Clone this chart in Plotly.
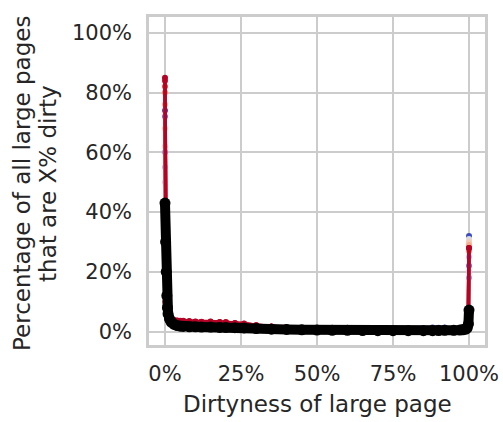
import plotly.graph_objects as go

# Dirtyness buckets (% of the large page that is dirty)
dirtyness = [0, 0.2, 0.4, 0.6, 0.8, 1, 1.5, 2, 3, 4, 5, 6, 8, 10, 12, 15, 18, 20, 23, 26,
             30, 35, 40, 45, 50, 55, 60, 65, 70, 75, 80, 85, 88, 90, 92, 95, 97, 98, 99,
             99.4, 99.8, 100]

# Per-run distributions (percentage of all large pages), coolwarm order
run_colors = ["#3b4cc0", "#5977e3", "#7b9ff9", "#9ebeff", "#c0d4f5", "#dddcdc",
              "#f2cbb7", "#f7ac8e", "#ee8468", "#d65244", "#c0142c", "#b40426"]

run_01 = [74, 8.5, 6.5, 5.6, 5.0, 4.6, 4.0, 3.6, 3.2, 3.0, 2.8, 2.9, 2.7, 2.6, 2.6, 2.7, 2.5, 2.5, 2.3,
          2.1, 1.8, 1.5, 1.2, 1.0, 0.8, 0.7, 0.7, 0.6, 0.6, 0.7, 0.8, 1.0, 1.4, 1.3, 0.9, 0.7, 0.8,
          1.0, 1.5, 2.7, 5.5, 32]
run_02 = [72, 8.8, 6.8, 5.8, 5.2, 4.8, 4.2, 3.7, 3.3, 3.1, 3.0, 2.8, 2.8, 2.9, 2.7, 2.6, 2.6, 2.5, 2.3,
          2.1, 1.8, 1.4, 1.2, 1.0, 0.8, 0.7, 0.6, 0.6, 0.6, 0.6, 0.7, 0.8, 0.9, 1.1, 1.4, 0.8, 0.7,
          0.9, 1.3, 2.4, 5.0, 22]
run_03 = [60, 8.0, 6.2, 5.4, 4.9, 4.5, 3.8, 3.4, 3.1, 2.9, 2.8, 2.7, 2.6, 2.7, 2.5, 2.4, 2.4, 2.4, 2.2,
          2.0, 1.7, 1.4, 1.1, 0.9, 0.8, 0.7, 0.6, 0.6, 0.5, 0.5, 0.6, 0.7, 0.7, 0.8, 0.8, 0.7, 0.7,
          0.9, 1.2, 2.2, 4.5, 18]
run_04 = [55, 8.2, 6.3, 5.5, 5.0, 4.6, 3.9, 3.5, 3.2, 3.0, 2.8, 2.8, 2.7, 2.6, 2.6, 2.5, 2.5, 2.4, 2.3,
          2.0, 1.7, 1.4, 1.1, 0.9, 0.8, 0.7, 0.6, 0.5, 0.5, 0.5, 0.6, 0.6, 0.7, 0.7, 0.7, 0.7, 0.7,
          0.9, 1.3, 2.3, 4.6, 25]
run_05 = [50, 7.8, 6.0, 5.3, 4.8, 4.4, 3.8, 3.4, 3.0, 2.9, 2.7, 2.6, 2.6, 2.5, 2.5, 2.4, 2.4, 2.3, 2.2,
          1.9, 1.6, 1.3, 1.1, 0.9, 0.8, 0.6, 0.6, 0.5, 0.5, 0.5, 0.5, 0.6, 0.6, 0.6, 0.7, 0.6, 0.7,
          0.8, 1.2, 2.2, 4.4, 20]
run_06 = [62, 8.4, 6.4, 5.6, 5.1, 4.7, 4.0, 3.6, 3.2, 3.0, 2.9, 2.8, 2.7, 2.7, 2.6, 2.5, 2.5, 2.5, 2.3,
          2.1, 1.8, 1.5, 1.2, 1.0, 0.8, 0.7, 0.6, 0.6, 0.5, 0.6, 0.6, 0.7, 0.7, 0.7, 0.8, 0.7, 0.7,
          0.9, 1.3, 2.5, 5.3, 31]
run_07 = [68, 8.7, 6.6, 5.7, 5.2, 4.8, 4.1, 3.7, 3.3, 3.1, 3.0, 3.0, 2.8, 2.8, 2.7, 2.7, 2.6, 2.6, 2.4,
          2.2, 1.9, 1.5, 1.2, 1.0, 0.8, 0.7, 0.7, 0.6, 0.6, 0.6, 0.6, 0.7, 0.7, 0.8, 0.8, 0.7, 0.8,
          1.0, 1.4, 2.6, 5.5, 30]
run_08 = [76, 9.2, 7.0, 6.0, 5.4, 5.0, 4.3, 3.9, 3.5, 3.3, 3.2, 3.1, 3.0, 2.9, 2.8, 2.9, 2.7, 2.7, 2.5,
          2.3, 1.9, 1.6, 1.3, 1.0, 0.9, 0.7, 0.7, 0.6, 0.6, 0.6, 0.6, 0.7, 0.7, 0.8, 0.8, 0.7, 0.8,
          1.0, 1.4, 2.7, 5.7, 29]
run_09 = [80, 9.5, 7.2, 6.2, 5.5, 5.1, 4.4, 4.0, 3.6, 3.4, 3.3, 3.2, 3.1, 3.2, 3.0, 3.1, 2.9, 2.8, 2.6,
          2.4, 2.0, 1.6, 1.3, 1.1, 0.9, 0.8, 0.7, 0.7, 0.6, 0.6, 0.6, 0.7, 0.7, 0.8, 0.8, 0.8, 0.8,
          1.1, 1.5, 2.8, 6.0, 27]
run_10 = [82, 9.8, 7.4, 6.3, 5.6, 5.2, 4.5, 4.1, 3.7, 3.5, 3.4, 3.5, 3.3, 3.2, 3.1, 3.2, 3.0, 3.2, 2.7,
          2.5, 2.0, 1.6, 1.3, 1.1, 0.9, 0.8, 0.7, 0.7, 0.6, 0.6, 0.6, 0.7, 0.7, 0.8, 0.8, 0.8, 0.8,
          1.1, 1.6, 2.9, 6.3, 28]
run_11 = [84, 10.0, 7.6, 6.5, 5.8, 5.3, 4.6, 4.2, 3.8, 3.6, 3.5, 3.6, 3.4, 3.3, 3.3, 3.4, 3.1, 3.0, 2.8,
          2.6, 2.1, 1.7, 1.4, 1.1, 0.9, 0.8, 0.7, 0.7, 0.6, 0.6, 0.6, 0.7, 0.7, 0.8, 0.8, 0.8, 0.9,
          1.1, 1.6, 3.0, 6.5, 28]
run_12 = [85, 10.2, 7.8, 6.6, 5.9, 5.4, 4.7, 4.3, 3.9, 3.7, 3.6, 3.5, 3.5, 3.4, 3.2, 3.3, 3.2, 3.1, 2.9,
          2.7, 2.1, 1.7, 1.4, 1.2, 0.9, 0.8, 0.8, 0.7, 0.6, 0.6, 0.6, 0.7, 0.7, 0.8, 0.8, 0.8, 0.9,
          1.1, 1.7, 3.1, 6.7, 28]
runs = [run_01, run_02, run_03, run_04, run_05, run_06, run_07, run_08, run_09, run_10, run_11, run_12]

# Aggregate over all runs
overall = [43, 30, 20, 12, 8, 6, 4.2, 3.2, 2.4, 2.0, 1.8, 1.7, 1.6, 1.6, 1.5, 1.5, 1.4, 1.4, 1.3, 1.2,
           1.0, 0.8, 0.7, 0.6, 0.5, 0.4, 0.4, 0.35, 0.3, 0.3, 0.3, 0.3, 0.3, 0.35, 0.4, 0.4, 0.5,
           0.6, 0.8, 1.2, 2.5, 7.2]

x_ticks = [0, 25, 50, 75, 100]
y_ticks = [0, 20, 40, 60, 80, 100]

text_color = "#262626"
grid_color = "#cccccc"
font_family = "DejaVu Sans"

fig = go.Figure()
for values, color in zip(runs, run_colors):
    fig.add_trace(go.Scatter(
        x=dirtyness, y=values, mode="lines+markers",
        line=dict(color=color, width=3.5),
        marker=dict(color=color, size=6),
        showlegend=False, hoverinfo="skip"))

fig.add_trace(go.Scatter(
    x=dirtyness, y=overall, mode="lines+markers",
    line=dict(color="black", width=10),
    marker=dict(color="black", size=11),
    showlegend=False))

fig.update_layout(
    width=503, height=422,
    margin=dict(l=149, r=18, t=17, b=77, autoexpand=False),
    paper_bgcolor="white", plot_bgcolor="white",
    font=dict(family=font_family, color=text_color, size=21),
    xaxis=dict(range=[-5.26, 105.26], tickvals=x_ticks,
               ticktext=[f"{v}%" for v in x_ticks], automargin=False,
               showgrid=True, gridcolor=grid_color, gridwidth=2,
               showline=True, mirror=True, linecolor=grid_color, linewidth=2.5,
               zeroline=False, ticks="outside", ticklen=8, tickcolor="rgba(0,0,0,0)",
               tickfont=dict(size=21, color=text_color)),
    yaxis=dict(range=[-4.5, 105.3], tickvals=y_ticks,
               ticktext=[f"{v}%" for v in y_ticks], automargin=False,
               showgrid=True, gridcolor=grid_color, gridwidth=2,
               showline=True, mirror=True, linecolor=grid_color, linewidth=2.5,
               zeroline=False, ticks="outside", ticklen=10, tickcolor="rgba(0,0,0,0)",
               tickfont=dict(size=21, color=text_color)),
    annotations=[
        dict(text="Dirtyness of large page", xref="paper", yref="paper",
             x=0.5, y=-0.18, xanchor="center", yanchor="middle", showarrow=False,
             font=dict(size=23, color=text_color)),
        dict(text="Percentage of all large pages", xref="paper", yref="paper",
             x=-0.378, y=0.494, xanchor="center", yanchor="middle", textangle=-90,
             showarrow=False, font=dict(size=23, color=text_color)),
        dict(text="that are X% dirty", xref="paper", yref="paper",
             x=-0.3006, y=0.494, xanchor="center", yanchor="middle", textangle=-90,
             showarrow=False, font=dict(size=23, color=text_color)),
    ],
)

fig.write_html("out.html")
